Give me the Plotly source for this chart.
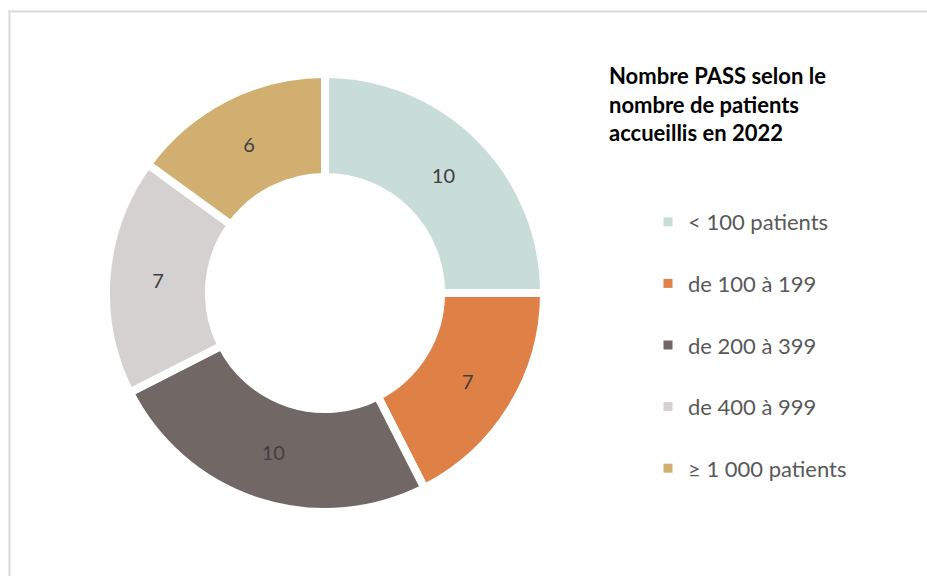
import plotly.graph_objects as go

categories = ["< 100 patients", "de 100 à 199", "de 200 à 399", "de 400 à 999", "≥ 1 000 patients"]
values = [10, 7, 10, 7, 6]
colors = ["#C9DDD8", "#DF8047", "#716765", "#D5D1D1", "#D1AF71"]
title_text = "Nombre PASS selon le<br>nombre de patients<br>accueillis en 2022"

W, H = 927, 576


def px(x):
    return x / W


def py(y):
    return 1 - y / H


cx, cy, R = 325, 293, 219

fig = go.Figure()
fig.add_trace(go.Pie(
    labels=categories, values=values, sort=False, direction="clockwise", rotation=0,
    hole=0.53,
    marker=dict(colors=colors, line=dict(color="white", width=8)),
    textinfo="value", textposition="inside", insidetextorientation="horizontal",
    textfont=dict(family="Lato", size=20, color="#404040"),
    domain=dict(x=[px(cx - R), px(cx + R)], y=[py(cy + R), py(cy - R)]),
    showlegend=False, hoverinfo="label+value",
))

for name, col in zip(categories, colors):
    fig.add_trace(go.Scatter(
        x=[None], y=[None], mode="markers", name=name,
        marker=dict(symbol="square", size=9, color=col),
        legendgroup=name,
    ))

fig.add_annotation(
    text="<b>" + title_text + "</b>", xref="paper", yref="paper",
    x=px(607), y=py(60), xanchor="left", yanchor="top", align="left",
    showarrow=False, font=dict(family="Lato", size=22, color="#000000"),
)

frame = dict(color="#D9D9D9", width=2)
fig.add_shape(type="line", xref="paper", yref="paper",
              x0=px(8.5), y0=py(11.5), x1=1.0, y1=py(11.5), line=frame, layer="below")
fig.add_shape(type="line", xref="paper", yref="paper",
              x0=px(9.5), y0=py(10.5), x1=px(9.5), y1=0.0, line=frame, layer="below")

fig.update_layout(
    width=W, height=H, margin=dict(l=0, r=0, t=0, b=0),
    paper_bgcolor="white", plot_bgcolor="white",
    xaxis=dict(visible=False), yaxis=dict(visible=False),
    legend=dict(x=px(648), y=py(201), xanchor="left", yanchor="top",
                font=dict(family="Lato", size=22, color="#595959"),
                tracegroupgap=30, itemwidth=30, bgcolor="rgba(0,0,0,0)"),
)

fig.write_html("out.html", config={"displayModeBar": False},
               post_script="document.body.style.margin='0px';document.body.style.overflow='hidden';")
